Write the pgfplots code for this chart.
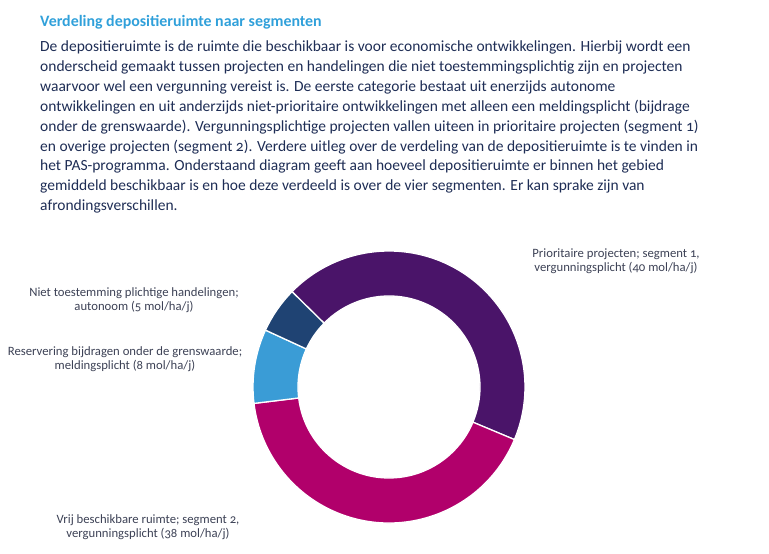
\documentclass[border=0pt]{standalone}
\usepackage{fontspec}
\setmainfont{Carlito}[Numbers=OldStyle]
\usepackage{pgfplots}
\usepackage{pgfplotstable}
\pgfplotsset{compat=1.18}
\definecolor{cPrior}{RGB}{74,20,105}
\definecolor{cVrij}{RGB}{177,0,107}
\definecolor{cRes}{RGB}{58,156,214}
\definecolor{cNiet}{RGB}{31,67,115}
\definecolor{cTitle}{RGB}{48,160,218}
\definecolor{cBody}{RGB}{30,45,85}
\definecolor{cLab}{RGB}{60,65,85}
\pgfplotstableread{
segment value
Prioritaire 40
Vrij 38
Reservering 8
Niet 5
}\donutdata
\begin{document}
\begin{tikzpicture}
\useasboundingbox (0pt,0pt) rectangle (769pt,554pt);
\pgfplotstablegetelem{0}{value}\of\donutdata\let\vA\pgfplotsretval
\pgfplotstablegetelem{1}{value}\of\donutdata\let\vB\pgfplotsretval
\pgfplotstablegetelem{2}{value}\of\donutdata\let\vC\pgfplotsretval
\pgfplotstablegetelem{3}{value}\of\donutdata\let\vD\pgfplotsretval
\pgfmathsetmacro\tot{\vA+\vB+\vC+\vD}
\pgfmathsetmacro\aO{135.5}
\pgfmathsetmacro\aA{\aO-360*\vA/\tot}
\pgfmathsetmacro\aB{\aA-360*\vB/\tot}
\pgfmathsetmacro\aC{\aB-360*\vC/\tot}
\pgfmathsetmacro\aD{\aC-360*\vD/\tot}
\newcommand\seg[3]{\filldraw[fill=#3, draw=white, line width=1.3pt]
  (axis cs:{cos(#1)},{sin(#1)}) arc[start angle=#1, end angle=#2, radius=136pt]
  -- (axis cs:{0.669*cos(#2)},{0.669*sin(#2)}) arc[start angle=#2, end angle=#1, radius=91pt] -- cycle;}
\begin{axis}[at={(253pt,31pt)}, anchor=south west, width=272pt, height=272pt,
  scale only axis, xmin=-1, xmax=1, ymin=-1, ymax=1, hide axis, clip=false]
\seg{\aO}{\aA}{cPrior}
\seg{\aA}{\aB}{cVrij}
\seg{\aB}{\aC}{cRes}
\seg{\aC}{\aD}{cNiet}
\end{axis}
% title and text
\node[anchor=base west, inner sep=0, text=cTitle, font=\fontsize{15.9}{18}\selectfont\bfseries] at (40pt,527pt) {Verdeling depositieruimte naar segmenten};
\begin{scope}[every node/.style={anchor=base west, inner sep=0, text=cBody, font=\fontsize{15.5}{18}\selectfont}]
\node at (40pt,502pt) {De depositieruimte is de ruimte die beschikbaar is voor economische ontwikkelingen. Hierbij wordt een};
\node at (40pt,482pt) {onderscheid gemaakt tussen projecten en handelingen die niet toestemmingsplichtig zijn en projecten};
\node at (40pt,462pt) {waarvoor wel een vergunning vereist is. De eerste categorie bestaat uit enerzijds autonome};
\node at (40pt,442pt) {ontwikkelingen en uit anderzijds niet-prioritaire ontwikkelingen met alleen een meldingsplicht (bijdrage};
\node at (40pt,422pt) {onder de grenswaarde). Vergunningsplichtige projecten vallen uiteen in prioritaire projecten (segment 1)};
\node at (40pt,402.5pt) {en overige projecten (segment 2). Verdere uitleg over de verdeling van de depositieruimte is te vinden in};
\node at (40pt,383pt) {het PAS-programma. Onderstaand diagram geeft aan hoeveel depositieruimte er binnen het gebied};
\node at (40pt,363pt) {gemiddeld beschikbaar is en hoe deze verdeeld is over de vier segmenten. Er kan sprake zijn van};
\node at (40pt,343pt) {afrondingsverschillen.};
\end{scope}
\begin{scope}[every node/.style={align=center, inner sep=0, text=cLab, font=\fontsize{12.7}{14.5}\selectfont}]
\node at (616pt,293pt) {Prioritaire projecten; segment 1,\\vergunningsplicht (40 mol/ha/j)};
\node at (134pt,254pt) {Niet toestemming plichtige handelingen;\\autonoom (5 mol/ha/j)};
\node at (125pt,195pt) {Reservering bijdragen onder de grenswaarde;\\meldingsplicht (8 mol/ha/j)};
\node at (148pt,27pt) {Vrij beschikbare ruimte; segment 2,\\vergunningsplicht (38 mol/ha/j)};
\end{scope}
\end{tikzpicture}
\end{document}
